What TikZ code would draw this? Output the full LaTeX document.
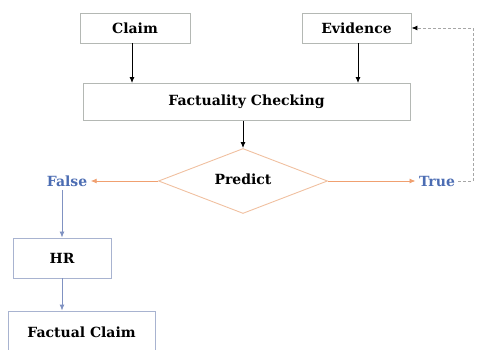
\documentclass[tikz,border=0pt]{standalone}
\usepackage{xcolor}
\usepackage{fontspec}
\setmainfont{DejaVu Serif}
\usepackage{tikz}
\usetikzlibrary{positioning, calc, shapes.geometric, arrows.meta}

\definecolor{boxgray}{HTML}{B4B8B4}
\definecolor{boxblue}{HTML}{A8B3D0}
\definecolor{peach}{HTML}{F0C0A0}
\definecolor{arrorange}{HTML}{F0A070}
\definecolor{arrblue}{HTML}{8092C2}
\definecolor{labelblue}{HTML}{4C6DB3}

\begin{document}
\begin{tikzpicture}[x=1pt, y=-1pt, >={Latex[length=6pt, width=5pt]},
				StepBox/.style={rectangle, draw=boxgray, line width=0.9pt, font=\bfseries\fontsize{14}{16}\selectfont},
				HrBox/.style={StepBox, draw=boxblue},
				Decide/.style={diamond, draw=peach, line width=0.9pt, aspect=2.6, minimum width=169pt, minimum height=65pt, inner sep=1pt, font=\bfseries\fontsize{14}{16}\selectfont},
				Outcome/.style={text=labelblue, font=\bfseries\fontsize{14}{16}\selectfont}]

			\useasboundingbox (0,0) rectangle (477,350);

			% Nodes
			\node[StepBox, minimum width=110pt, minimum height=30pt] (Claim) at (135,28) {Claim};
			\node[StepBox, minimum width=109pt, minimum height=30pt] (Evidence) at (356.5,28) {Evidence};
			\node[StepBox, minimum width=327pt, minimum height=37pt] (Check) at (246.5,102) {Factuality Checking};

			\node[Decide] (Predict) at (243,181) {\raisebox{3pt}{Predict}};

			\node[Outcome] (False) at (67,181) {False};
			\node[Outcome] (True) at (437,181) {True};

			\node[HrBox, minimum width=98pt, minimum height=40pt] (HR) at (62,258) {HR};
			\node[HrBox, minimum width=147pt, minimum height=42pt] (Factual) at (81.5,332) {Factual Claim};

			% Lines
			\draw[->, line width=0.9pt] (Claim.south -| 132,0) to (Check.north -| 132,0);
			\draw[->, line width=0.9pt] (Evidence.south -| 358,0) to (Check.north -| 358,0);
			\draw[->, line width=0.9pt] (Check.south -| Predict) to (Predict.north);

			\draw[->, arrorange, line width=0.9pt] (Predict.west) to (False.east);
			\draw[->, arrorange, line width=0.9pt] (Predict.east) to (True.west);

			\draw[->, arrblue, line width=0.9pt] (False.south -| HR) to (HR.north);
			\draw[->, arrblue, line width=0.9pt] (HR.south) to (Factual.north -| HR);

			\coordinate (Corner) at (473,181);
			\draw[-{Latex[length=6pt, width=5pt, black]}, densely dashed, gray!70, line width=0.9pt] (True.east) -- (Corner) |- (Evidence.east);
		\end{tikzpicture}
\end{document}
